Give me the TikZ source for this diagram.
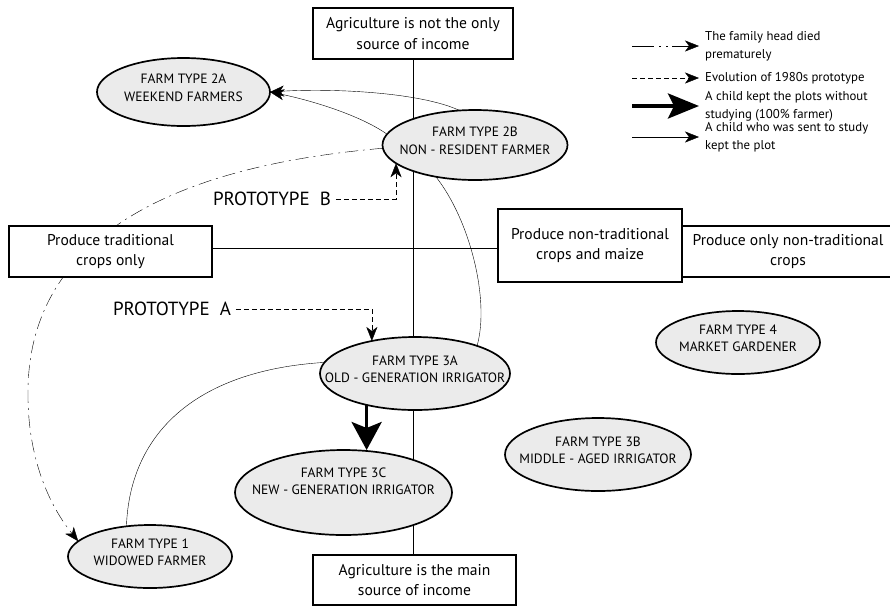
\documentclass[tikz,border=0pt]{standalone}
\usepackage{fontspec}
\setmainfont{PT Sans}
\usepackage{tikz}
\usetikzlibrary{shapes.geometric,arrows.meta}
\definecolor{farmgray}{HTML}{EBEBEB}
\pgfdeclarelayer{bg}
\pgfsetlayers{bg,main}

\begin{document}
\begin{tikzpicture}
	[
		x=1pt, y=-1pt, line width=1.9pt,
		farm/.style = {shape=ellipse, draw, fill=farmgray, inner sep=0pt, outer sep=0pt, line width=1.7pt},
		farmtext/.style = {align=center, yshift=4pt, font=\fontsize{13.5}{17.5}\selectfont},
		axisbox/.style = {draw, fill=white, align=center, inner sep=0pt, outer sep=0pt, line width=1.9pt, font=\fontsize{15.6}{20.5}\selectfont},
		proto/.style = {inner sep=4pt, font=\fontsize{19}{22}\selectfont},
		keytext/.style = {anchor=west, align=left, inner sep=0pt, font=\fontsize{12.8}{18}\selectfont},
		studied/.style = {-{Stealth[length=14pt,width=11pt,inset=4pt]}},
		evolved/.style = {dash pattern=on 5pt off 3pt, -{Stealth[length=14pt,width=11pt,inset=4pt]}},
		died/.style = {dash pattern=on 13pt off 5pt on 2pt off 5pt, -{Stealth[length=14pt,width=11pt,inset=4pt]}},
		farmer/.style = {line width=3.6pt, -{Stealth[length=28pt,width=30pt,inset=6pt]}},
	]
  \useasboundingbox (0,0) rectangle (890,606);

  % axes
  \node[axisbox, minimum width=200pt, minimum height=51pt] (notonly) at (413,33.5) {Agriculture is not the only\\source of income};
  \node[axisbox, minimum width=203pt, minimum height=50pt] (mainsrc) at (414.5,580) {Agriculture is the main\\source of income};
  \node[axisbox, minimum width=203pt, minimum height=51pt] (tradonly) at (110.5,251.5) {Produce traditional\\crops only};
  \node[axisbox, minimum width=184pt, minimum height=73pt] (nontrad) at (590,245.5) {Produce non-traditional\\crops and maize};
  \node[axisbox, minimum width=212pt, minimum height=51pt, anchor=west] (onlynontrad) at (nontrad.east |- tradonly) {Produce only non-traditional\\crops};
  \coordinate (cross) at (413,248);

  % farm types
  \node[farm, minimum width=173pt, minimum height=68pt, label={[farmtext]center:FARM TYPE 2A\\WEEKEND FARMERS}] (weekend) at (183.5,92) {};
  \node[farm, minimum width=185pt, minimum height=70pt, label={[farmtext]center:FARM TYPE 2B\\NON - RESIDENT FARMER}] (nonres) at (475,145) {};
  \node[farm, minimum width=190pt, minimum height=73pt, label={[farmtext]center:FARM TYPE 3A\\OLD - GENERATION IRRIGATOR}] (oldirr) at (415,373.5) {};
  \node[farm, minimum width=217pt, minimum height=85pt, label={[farmtext, yshift=7pt]center:FARM TYPE 3C\\NEW - GENERATION IRRIGATOR}] (newirr) at (343.5,492.5) {};
  \node[farm, minimum width=186pt, minimum height=73pt, label={[farmtext]center:FARM TYPE 3B\\MIDDLE - AGED IRRIGATOR}] (midirr) at (598,454.5) {};
  \node[farm, minimum width=164pt, minimum height=63pt, label={[farmtext]center:FARM TYPE 4\\MARKET GARDENER}] (market) at (738,342.5) {};
  \node[farm, minimum width=164pt, minimum height=63pt, label={[farmtext]center:FARM TYPE 1\\WIDOWED FARMER}] (widowed) at (150,556.5) {};

  \node[proto] (protoB) at (272,199) {PROTOTYPE\ \ B};
  \node[proto] (protoA) at (172,309) {PROTOTYPE\ \ A};

  \begin{pgfonlayer}{bg}
  \draw (notonly.south) -- (notonly.south |- mainsrc.north);
  \draw (tradonly.east |- cross) -- (nontrad.west |- cross);
  \coordinate (bend) at (28,390);
  \draw[died] (nonres.182) .. controls (250,160) and (30,200) .. (bend)
  	.. controls (27,450) and (45,500) .. (widowed.168);
  \draw (widowed.128) .. controls (130,430) and (200,370) .. (oldirr.173);
  \draw (oldirr.24) .. controls (490,300) and (470,220) .. (nonres.219);
  \end{pgfonlayer}

  \draw[studied] (nonres.114) .. controls (420,92) and (330,88) .. (weekend.0);
  \draw[studied] (nonres.173) .. controls (360,115) and (310,100) .. (weekend.0);
  \draw[farmer] (oldirr.213.3) -- (oldirr.213.3 |- newirr.north);
  \draw[evolved] (protoB.east) -| (nonres.193.6);
  \draw[evolved] (protoA.east) -| (oldirr.143.7);

  % key
  \coordinate (k1) at (632,46);
  \coordinate (k2) at (632,78);
  \coordinate (k3) at (632,106);
  \coordinate (k4) at (632,137);
  \node[keytext] (key1) at (705,46) {The family head died\\prematurely};
  \node[keytext] (key2) at (705,78) {Evolution of 1980s prototype};
  \node[keytext] (key3) at (705,106) {A child kept the plots without\\studying (100\% farmer)};
  \node[keytext] (key4) at (705,137) {A child who was sent to study\\kept the plot};
  \draw[died, dash pattern=on 22pt off 5pt on 2pt off 5pt on 2pt off 4pt] (k1) -- ([xshift=-6pt]key1.west);
  \draw[evolved] (k2) -- ([xshift=-6pt]key2.west);
  \draw[farmer, -{Stealth[length=31pt,width=25pt,inset=6pt]}] (k3) -- ([xshift=-6pt]key3.west);
  \draw[studied] (k4) -- ([xshift=-6pt]key4.west);

\end{tikzpicture}
\end{document}
